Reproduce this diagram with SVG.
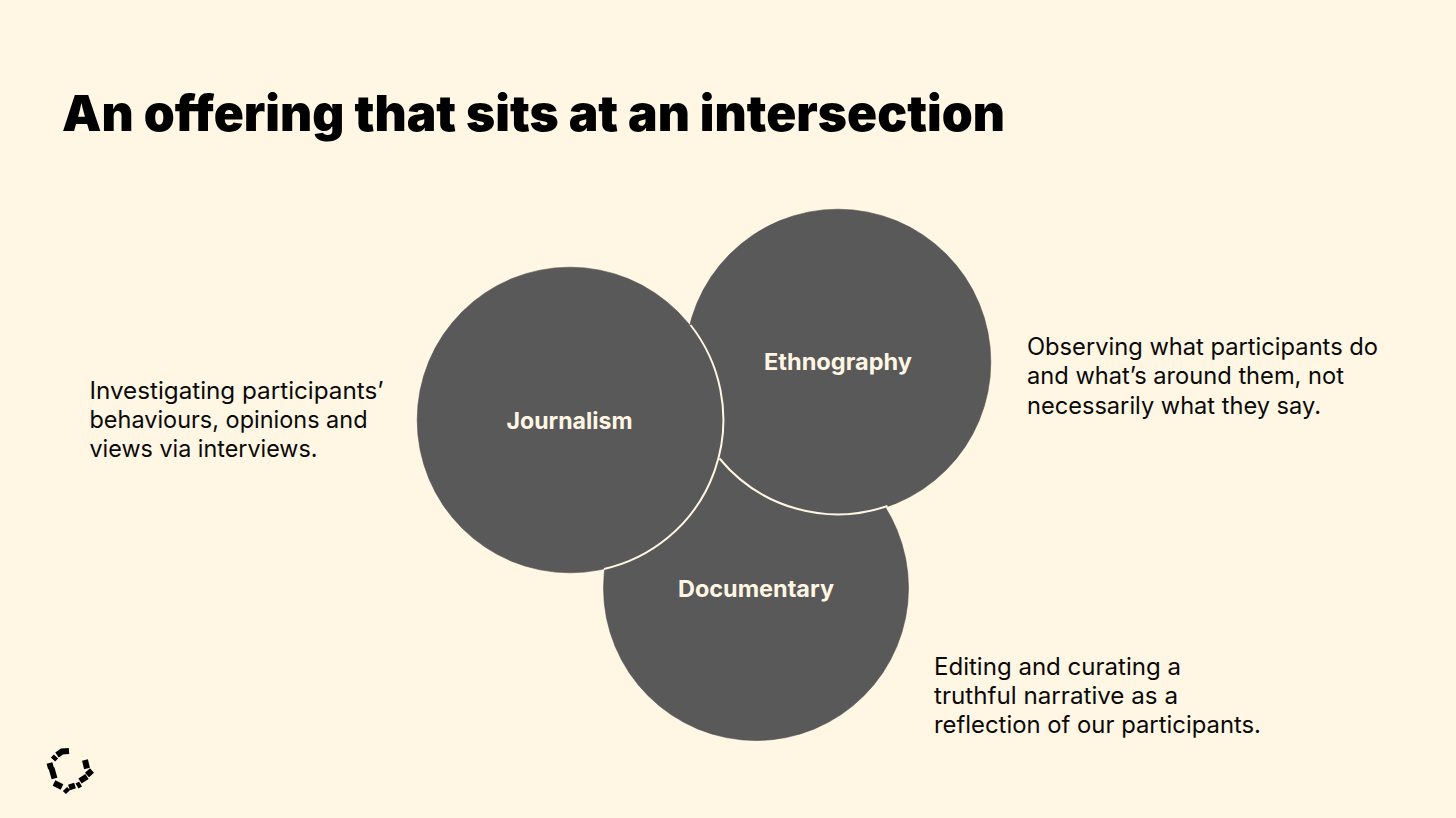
<svg xmlns="http://www.w3.org/2000/svg" width="1456" height="818" viewBox="0 0 1456 818">
<style>
.bg{fill:#fff6e3}
.c{fill:#595959;stroke:#4f4f4f;stroke-width:.6}
.a{fill:none;stroke:#fff6e3;stroke-width:2}
.l{font-family:"Inter","Liberation Sans",sans-serif;font-size:23px;font-weight:700;fill:#fff6e3;text-anchor:middle}
.b{font-family:"Inter","Liberation Sans",sans-serif;font-size:24px;font-weight:400;fill:#0a0a0a}
.t{font-family:"Inter","Liberation Sans",sans-serif;font-size:50px;font-weight:900;fill:#000}
.m{fill:none;stroke:#000;stroke-width:6}
</style>
<rect class="bg" width="1456" height="818"/>
<text class="t" x="62" y="131" textLength="943" lengthAdjust="spacingAndGlyphs">An offering that sits at an intersection</text>
<g id="documentary">
<circle class="c" cx="756" cy="588" r="152.500"/>
<text class="l" x="756" y="597" textLength="156" lengthAdjust="spacingAndGlyphs">Documentary</text>
</g>
<g id="ethnography">
<circle class="c" cx="838" cy="362" r="152.800"/>
<path class="a" d="M719.500 458.500A153 153 0 0 0 887.500 506"/>
<text class="l" x="838" y="370" textLength="148" lengthAdjust="spacingAndGlyphs">Ethnography</text>
</g>
<g id="journalism">
<circle class="c" cx="570" cy="420" r="152.800"/>
<path class="a" d="M690.500 325A153 153 0 0 1 604 569"/>
<text class="l" x="569.500" y="429" textLength="126" lengthAdjust="spacingAndGlyphs">Journalism</text>
</g>
<g id="connectors"/>
<g id="text-journalism">
<text class="b" x="89.500" y="399" textLength="294" lengthAdjust="spacingAndGlyphs">Investigating participants’</text>
<text class="b" x="89.500" y="428" textLength="278" lengthAdjust="spacingAndGlyphs">behaviours, opinions and</text>
<text class="b" x="89.500" y="457" textLength="228" lengthAdjust="spacingAndGlyphs">views via interviews.</text>
</g>
<g id="text-ethnography">
<text class="b" x="1027" y="355" textLength="351" lengthAdjust="spacingAndGlyphs">Observing what participants do</text>
<text class="b" x="1027" y="384" textLength="317" lengthAdjust="spacingAndGlyphs">and what’s around them, not</text>
<text class="b" x="1027" y="414" textLength="294" lengthAdjust="spacingAndGlyphs">necessarily what they say.</text>
</g>
<g id="text-documentary">
<text class="b" x="934" y="675" textLength="247" lengthAdjust="spacingAndGlyphs">Editing and curating a</text>
<text class="b" x="934" y="704" textLength="244" lengthAdjust="spacingAndGlyphs">truthful narrative as a</text>
<text class="b" x="934" y="733" textLength="327" lengthAdjust="spacingAndGlyphs">reflection of our participants.</text>
</g>
<g id="logo">
<path class="m" d="M69 751L62 751.500L57 755M56 756.500L53 759.500M49.500 763L51 768.500M51.500 768L54.500 778.500M54 783L62 787M65 789L68 792M69 787.500L75 785.500M77 786L80.500 784M80 781L87 776.500M87 775L92 770.500M85 760L87 768.500"/>
</g>
</svg>
